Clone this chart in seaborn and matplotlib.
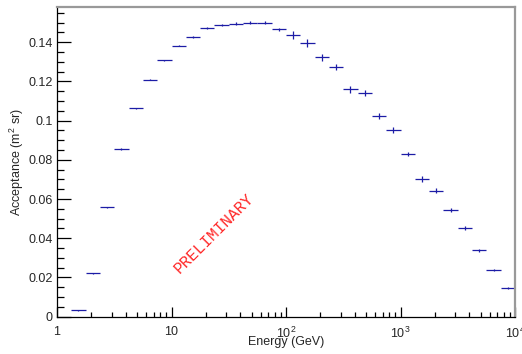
import numpy as np
import matplotlib
matplotlib.use("Agg")
import matplotlib.pyplot as plt
import matplotlib.ticker as mticker
import seaborn as sns

# bin edges in GeV (8 log bins per decade)
edges = [1.334, 1.778, 2.371, 3.162, 4.217, 5.623, 7.499, 10.0,
         13.34, 17.78, 23.71, 31.62, 42.17, 56.23, 74.99, 100.0,
         133.4, 177.8, 237.1, 316.2, 421.7, 562.3, 749.9, 1000.0,
         1334.0, 1778.0, 2371.0, 3162.0, 4217.0, 5623.0, 7499.0, 10000.0]

# acceptance in m^2 sr
acceptance = [0.0032, 0.0221, 0.0558, 0.0856, 0.1063, 0.1209, 0.1308, 0.1383,
              0.1429, 0.1473, 0.1488, 0.1495, 0.1500, 0.1500, 0.1467, 0.1438,
              0.1396, 0.1323, 0.1276, 0.1160, 0.1143, 0.1026, 0.0953, 0.0830,
              0.0701, 0.0643, 0.0543, 0.0451, 0.0339, 0.0237, 0.0145]
acc_err = [0.0003, 0.0003, 0.0003, 0.0003, 0.0003, 0.0003, 0.0004, 0.0004,
           0.0005, 0.0006, 0.0006, 0.0006, 0.0007, 0.0007, 0.0008, 0.0020,
           0.0020, 0.0018, 0.0015, 0.0018, 0.0015, 0.0015, 0.0015, 0.0012,
           0.0015, 0.0012, 0.0010, 0.0010, 0.0008, 0.0006, 0.0005]

xtick_vals = [1, 10, 100, 1000, 10000]
xtick_labels = ["1", "10", "$10^{2}$", "$10^{3}$", "$10^{4}$"]

lo = np.array(edges[:-1])
hi = np.array(edges[1:])
center = np.sqrt(lo * hi)

sns.set_theme(style="ticks")
plt.rcParams['font.family'] = ['Liberation Sans', 'DejaVu Sans']
plt.rcParams['mathtext.fontset'] = 'custom'
plt.rcParams['mathtext.rm'] = 'Liberation Sans'
plt.rcParams['mathtext.it'] = 'Liberation Sans'

fig = plt.figure(figsize=(5.22, 3.54), dpi=100)
ax = fig.add_axes([57 / 522, 1 - 316.7 / 354, 458 / 522, 309.7 / 354])

ax.errorbar(center, acceptance, xerr=[center - lo, hi - center], yerr=acc_err,
            fmt='none', ecolor='#1c1ca6', elinewidth=0.9, capsize=0)

ax.set_xscale('log')
ax.set_xlim(1, 10000)
ax.set_ylim(0, 0.158)

ax.set_xticks(xtick_vals)
ax.set_xticklabels(xtick_labels)
ax.xaxis.set_minor_locator(mticker.LogLocator(base=10, subs=np.arange(2, 10)))
ax.xaxis.set_minor_formatter(mticker.NullFormatter())
ax.yaxis.set_major_locator(mticker.MultipleLocator(0.02))
ax.yaxis.set_minor_locator(mticker.MultipleLocator(0.005))
ax.yaxis.set_major_formatter(mticker.FuncFormatter(lambda v, p: "0" if v == 0 else ("%g" % round(v, 2))))

ax.tick_params(axis='y', which='major', direction='in', length=10, width=0.9, labelsize=9, pad=3, color='black')
ax.tick_params(axis='y', which='minor', direction='in', length=5, width=0.9, color='black')
ax.tick_params(axis='x', which='major', direction='in', length=7.5, width=0.9, labelsize=9, pad=6.5, color='black')
ax.tick_params(axis='x', which='minor', direction='in', length=3.8, width=0.9, color='black')
ax.tick_params(which='both', top=False, right=False)

for s in ['left', 'bottom']:
    ax.spines[s].set_color('black')
    ax.spines[s].set_linewidth(0.9)
for s in ['top', 'right']:
    ax.spines[s].set_color('#999999')
    ax.spines[s].set_linewidth(1.6)

ax.set_xlabel("Energy (GeV)", fontsize=9)
ax.xaxis.label.set_va('center')
ax.xaxis.set_label_coords(0.5, -0.082)
ax.set_ylabel("Acceptance (m$^{2}$ sr)", fontsize=9)
ax.yaxis.label.set_va('center')
ax.yaxis.set_label_coords(-0.087, 0.5)

ax.text(23.4, 0.0427, "PRELIMINARY", color='#ff2a2a', rotation=45,
        fontsize=11.5, family=['Liberation Mono', 'DejaVu Sans Mono'],
        ha='center', va='center', rotation_mode='anchor')

fig.savefig("out.png", dpi=100)
